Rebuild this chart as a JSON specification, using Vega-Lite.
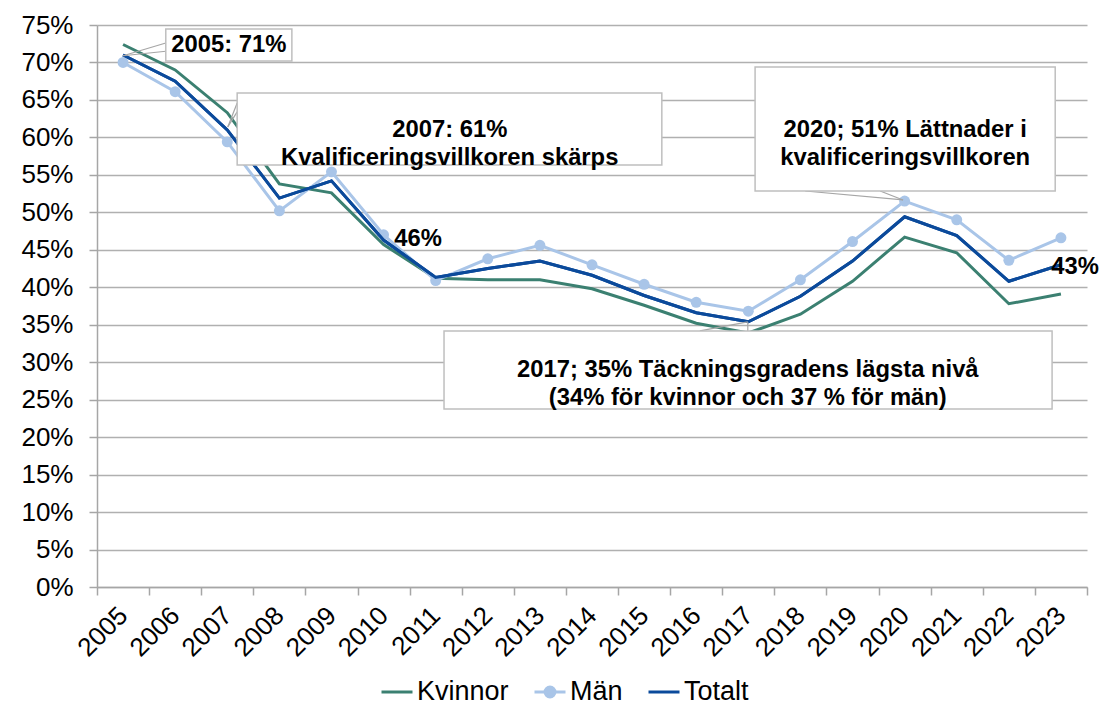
{
  "$schema": "https://vega.github.io/schema/vega-lite/v6.json",
  "width": 990,
  "height": 562,
  "autosize": {"type": "none"},
  "padding": {"left": 97, "top": 25, "right": 15, "bottom": 119},
  "background": "white",
  "config": {
    "font": "Liberation Sans",
    "view": {"stroke": null},
    "axisY": {
      "title": null, "values": [0, 5, 10, 15, 20, 25, 30, 35, 40, 45, 50, 55, 60, 65, 70, 75],
      "labelExpr": "datum.value + '%'", "labelFontSize": 26, "labelColor": "black", "labelPadding": 16,
      "labelOverlap": false, "labelBound": false,
      "tickSize": 8, "tickColor": "#A6A6A6", "tickWidth": 1.5,
      "domainColor": "#A6A6A6", "domainWidth": 1.5,
      "grid": true, "gridColor": "#B0B0B0", "gridWidth": 1.5
    }
  },
  "datasets": {
    "series": [
      {"year": "2005", "series": "Kvinnor", "value": 72.4}, {"year": "2005", "series": "Män", "value": 70.0}, {"year": "2005", "series": "Totalt", "value": 71.0},
      {"year": "2006", "series": "Kvinnor", "value": 69.0}, {"year": "2006", "series": "Män", "value": 66.1}, {"year": "2006", "series": "Totalt", "value": 67.5},
      {"year": "2007", "series": "Kvinnor", "value": 63.3}, {"year": "2007", "series": "Män", "value": 59.4}, {"year": "2007", "series": "Totalt", "value": 61.0},
      {"year": "2008", "series": "Kvinnor", "value": 53.8}, {"year": "2008", "series": "Män", "value": 50.2}, {"year": "2008", "series": "Totalt", "value": 51.9},
      {"year": "2009", "series": "Kvinnor", "value": 52.6}, {"year": "2009", "series": "Män", "value": 55.4}, {"year": "2009", "series": "Totalt", "value": 54.2},
      {"year": "2010", "series": "Kvinnor", "value": 45.7}, {"year": "2010", "series": "Män", "value": 47.0}, {"year": "2010", "series": "Totalt", "value": 46.3},
      {"year": "2011", "series": "Kvinnor", "value": 41.2}, {"year": "2011", "series": "Män", "value": 40.9}, {"year": "2011", "series": "Totalt", "value": 41.3},
      {"year": "2012", "series": "Kvinnor", "value": 41.0}, {"year": "2012", "series": "Män", "value": 43.8}, {"year": "2012", "series": "Totalt", "value": 42.5},
      {"year": "2013", "series": "Kvinnor", "value": 41.0}, {"year": "2013", "series": "Män", "value": 45.6}, {"year": "2013", "series": "Totalt", "value": 43.5},
      {"year": "2014", "series": "Kvinnor", "value": 39.8}, {"year": "2014", "series": "Män", "value": 43.0}, {"year": "2014", "series": "Totalt", "value": 41.6},
      {"year": "2015", "series": "Kvinnor", "value": 37.6}, {"year": "2015", "series": "Män", "value": 40.4}, {"year": "2015", "series": "Totalt", "value": 38.9},
      {"year": "2016", "series": "Kvinnor", "value": 35.2}, {"year": "2016", "series": "Män", "value": 38.0}, {"year": "2016", "series": "Totalt", "value": 36.6},
      {"year": "2017", "series": "Kvinnor", "value": 33.9}, {"year": "2017", "series": "Män", "value": 36.8}, {"year": "2017", "series": "Totalt", "value": 35.4},
      {"year": "2018", "series": "Kvinnor", "value": 36.4}, {"year": "2018", "series": "Män", "value": 41.0}, {"year": "2018", "series": "Totalt", "value": 38.8},
      {"year": "2019", "series": "Kvinnor", "value": 40.8}, {"year": "2019", "series": "Män", "value": 46.1}, {"year": "2019", "series": "Totalt", "value": 43.5},
      {"year": "2020", "series": "Kvinnor", "value": 46.7}, {"year": "2020", "series": "Män", "value": 51.5}, {"year": "2020", "series": "Totalt", "value": 49.4},
      {"year": "2021", "series": "Kvinnor", "value": 44.6}, {"year": "2021", "series": "Män", "value": 49.0}, {"year": "2021", "series": "Totalt", "value": 46.9},
      {"year": "2022", "series": "Kvinnor", "value": 37.8}, {"year": "2022", "series": "Män", "value": 43.6}, {"year": "2022", "series": "Totalt", "value": 40.8},
      {"year": "2023", "series": "Kvinnor", "value": 39.1}, {"year": "2023", "series": "Män", "value": 46.6}, {"year": "2023", "series": "Totalt", "value": 43.0}
    ],
    "boxes": [
      {"x": 2005.82, "x2": 2008.24, "value": 74.47, "value2": 70.2},
      {"x": 2007.19, "x2": 2015.34, "value": 65.93, "value2": 56.32},
      {"x": 2017.13, "x2": 2022.89, "value": 69.4, "value2": 52.85},
      {"x": 2011.16, "x2": 2022.83, "value": 34.17, "value2": 23.76}
    ],
    "leaders": [
      {"x": 2005.82, "x2": 2005.0, "value": 72.6, "value2": 70.9},
      {"x": 2005.82, "x2": 2005.0, "value": 71.5, "value2": 70.9},
      {"x": 2007.19, "x2": 2007.01, "value": 64.6, "value2": 61.4},
      {"x": 2007.19, "x2": 2007.01, "value": 63.4, "value2": 61.4},
      {"x": 2018.09, "x2": 2019.97, "value": 52.85, "value2": 51.65},
      {"x": 2019.53, "x2": 2019.97, "value": 52.85, "value2": 51.65},
      {"x": 2016.07, "x2": 2016.99, "value": 34.17, "value2": 35.37},
      {"x": 2016.99, "x2": 2016.99, "value": 34.17, "value2": 35.37}
    ],
    "texts": [
      {"x": 2007.03, "value": 72.33, "label": "2005: 71%"},
      {"x": 2011.27, "value": 60.99, "label": "2007: 61%\nKvalificeringsvillkoren skärps"},
      {"x": 2020.01, "value": 61.0, "label": "2020; 51% Lättnader i\nkvalificeringsvillkoren"},
      {"x": 2016.99, "value": 28.96, "label": "2017; 35% Täckningsgradens lägsta nivå\n(34% för kvinnor och 37 % för män)"},
      {"x": 2010.66, "value": 46.4, "label": "46%"},
      {"x": 2023.27, "value": 42.7, "label": "43%"}
    ]
  },
  "layer": [
    {
      "data": {"name": "series"},
      "mark": {"type": "line", "strokeWidth": 3},
      "encoding": {
        "x": {
          "field": "year", "type": "ordinal", "bandPosition": 0.5,
          "scale": {"type": "band", "paddingInner": 0, "paddingOuter": 0},
          "axis": {
            "title": null, "tickBand": "extent", "labelAngle": -45, "labelAlign": "right",
            "labelBaseline": "middle", "labelFontSize": 26, "labelColor": "black", "labelPadding": 16,
            "labelOverlap": false, "labelBound": false,
            "tickSize": 8, "tickColor": "#A6A6A6", "tickWidth": 1.5,
            "domainColor": "#A6A6A6", "domainWidth": 1.5, "grid": false
          }
        },
        "y": {
          "field": "value", "type": "quantitative", "title": null,
          "scale": {"domain": [0, 75], "nice": false},
          "axis": {"values": [0, 5, 10, 15, 20, 25, 30, 35, 40, 45, 50, 55, 60, 65, 70, 75], "labelExpr": "datum.value + '%'", "labelOverlap": false}
        },
        "color": {
          "field": "series", "type": "nominal",
          "scale": {"domain": ["Kvinnor", "Män", "Totalt"], "range": ["#3B8071", "#A9C5E8", "#0B4A9B"]},
          "legend": {
            "orient": "none", "legendX": 283, "legendY": 650, "direction": "horizontal", "title": null,
            "symbolType": "stroke", "symbolSize": 961, "symbolStrokeWidth": 3,
            "labelFontSize": 27, "labelColor": "black", "columnPadding": 19, "labelOffset": 3,
            "encode": {
              "symbols": {
                "update": {
                  "shape": {"signal": "datum.value === 'Män' ? 'M-1,0H1M0.32,0A0.32,0.32,0,1,1,-0.32,0A0.32,0.32,0,1,1,0.32,0Z' : 'stroke'"},
                  "fill": {"signal": "datum.value === 'Män' ? '#A9C5E8' : 'transparent'"}
                }
              }
            }
          }
        }
      }
    },
    {
      "data": {"name": "series"},
      "transform": [{"filter": "datum.series === 'Män'"}],
      "mark": {"type": "point", "filled": true, "size": 120, "opacity": 1},
      "encoding": {
        "x": {"field": "year", "type": "ordinal", "bandPosition": 0.5, "scale": {"type": "band", "paddingInner": 0, "paddingOuter": 0}, "axis": null},
        "y": {"field": "value", "type": "quantitative", "title": null, "scale": {"domain": [0, 75], "nice": false}, "axis": {"values": [0, 5, 10, 15, 20, 25, 30, 35, 40, 45, 50, 55, 60, 65, 70, 75], "labelExpr": "datum.value + '%'", "labelOverlap": false}},
        "color": {"field": "series", "type": "nominal", "legend": null}
      }
    },
    {
      "data": {"name": "series"},
      "transform": [{"filter": "datum.series === 'Totalt'"}],
      "mark": {"type": "line", "strokeWidth": 3},
      "encoding": {
        "x": {"field": "year", "type": "ordinal", "bandPosition": 0.5, "scale": {"type": "band", "paddingInner": 0, "paddingOuter": 0}, "axis": null},
        "y": {"field": "value", "type": "quantitative", "title": null, "scale": {"domain": [0, 75], "nice": false}, "axis": {"values": [0, 5, 10, 15, 20, 25, 30, 35, 40, 45, 50, 55, 60, 65, 70, 75], "labelExpr": "datum.value + '%'", "labelOverlap": false}},
        "color": {"field": "series", "type": "nominal", "legend": null}
      }
    },
    {
      "data": {"name": "leaders"},
      "mark": {"type": "rule", "color": "#A6A6A6", "strokeWidth": 1.2},
      "encoding": {
        "x": {"field": "x", "type": "quantitative", "scale": {"domain": [2004.5, 2023.5], "nice": false, "zero": false}, "axis": null},
        "x2": {"field": "x2"},
        "y": {"field": "value", "type": "quantitative", "title": null, "scale": {"domain": [0, 75], "nice": false}, "axis": {"values": [0, 5, 10, 15, 20, 25, 30, 35, 40, 45, 50, 55, 60, 65, 70, 75], "labelExpr": "datum.value + '%'", "labelOverlap": false}},
        "y2": {"field": "value2"}
      }
    },
    {
      "data": {"name": "boxes"},
      "mark": {"type": "rect", "fill": "white", "stroke": "#BFBFBF", "strokeWidth": 1.5},
      "encoding": {
        "x": {"field": "x", "type": "quantitative", "scale": {"domain": [2004.5, 2023.5], "nice": false, "zero": false}, "axis": null},
        "x2": {"field": "x2"},
        "y": {"field": "value", "type": "quantitative", "title": null, "scale": {"domain": [0, 75], "nice": false}, "axis": {"values": [0, 5, 10, 15, 20, 25, 30, 35, 40, 45, 50, 55, 60, 65, 70, 75], "labelExpr": "datum.value + '%'", "labelOverlap": false}},
        "y2": {"field": "value2"}
      }
    },
    {
      "data": {"name": "texts"},
      "mark": {"type": "text", "fontSize": 23.8, "fontWeight": "bold", "color": "black", "align": "center", "baseline": "middle", "lineBreak": "\n", "lineHeight": 28},
      "encoding": {
        "x": {"field": "x", "type": "quantitative", "scale": {"domain": [2004.5, 2023.5], "nice": false, "zero": false}, "axis": null},
        "y": {"field": "value", "type": "quantitative", "title": null, "scale": {"domain": [0, 75], "nice": false}, "axis": {"values": [0, 5, 10, 15, 20, 25, 30, 35, 40, 45, 50, 55, 60, 65, 70, 75], "labelExpr": "datum.value + '%'", "labelOverlap": false}},
        "text": {"field": "label"}
      }
    }
  ],
  "resolve": {"scale": {"x": "independent"}}
}
